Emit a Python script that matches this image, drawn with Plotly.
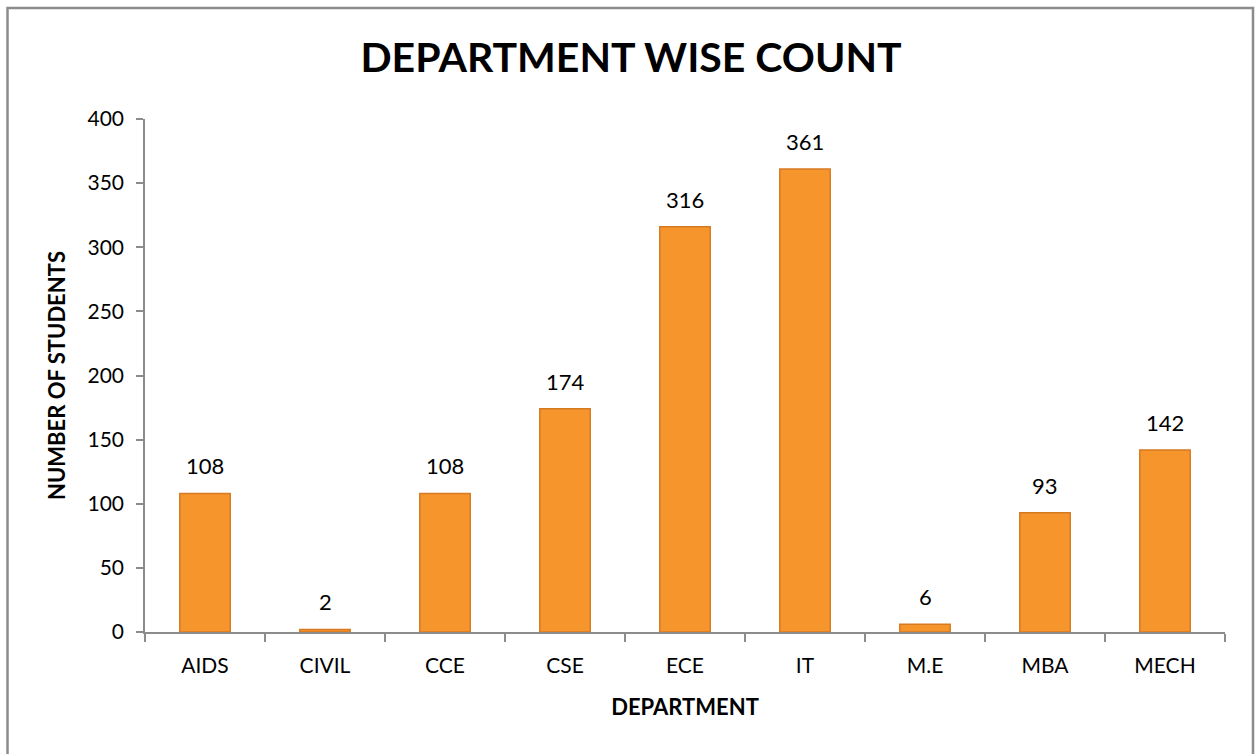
import plotly.graph_objects as go

departments = ["AIDS", "CIVIL", "CCE", "CSE", "ECE", "IT", "M.E", "MBA", "MECH"]
students = [108, 2, 108, 174, 316, 361, 6, 93, 142]

FONT = "Lato, 'Liberation Sans', sans-serif"

W, H = 1258, 754
L, R, T, B = 145, W - 1225, 119, H - 632
pw, ph = W - L - R, H - T - B


def px(x):
    return (x - L) / pw


def py(y):
    return (H - B - y) / ph


fig = go.Figure()
fig.add_trace(go.Bar(
    x=departments,
    y=students,
    width=0.42,
    marker=dict(color="#F6952B", line=dict(color="#D67A22", width=1.5)),
    hoverinfo="x+y",
))

for d, v in zip(departments, students):
    fig.add_annotation(x=d, y=v, text=str(v), showarrow=False,
                       yanchor="bottom", yshift=12,
                       font=dict(family=FONT, size=22, color="#000000"))

fig.update_layout(
    width=W, height=H,
    margin=dict(l=L, r=R, t=T, b=B, autoexpand=False),
    paper_bgcolor="white",
    plot_bgcolor="white",
    showlegend=False,
    title=dict(text="<b>DEPARTMENT WISE COUNT</b>", x=px(631), xanchor="center",
               y=1 - 58 / H, yanchor="middle", xref="paper",
               font=dict(family=FONT, size=41, color="#000000")),
    font=dict(family=FONT, color="#000000"),
    shapes=[dict(type="path", xref="paper", yref="paper",
                 path=f"M {px(7.5)} {py(800)} L {px(7.5)} {py(8)} L {px(1253)} {py(8)} L {px(1253)} {py(800)}",
                 line=dict(color="#8C8C8C", width=2.5), layer="below")],
)

fig.update_xaxes(
    showline=True, linecolor="#8C8C8C", linewidth=1.5,
    ticks="outside", tickson="boundaries", ticklen=8, tickcolor="#8C8C8C", tickwidth=1.5,
    ticklabelstandoff=14,
    tickfont=dict(family=FONT, size=21, color="#000000"),
    title=dict(text="<b>DEPARTMENT</b>", font=dict(family=FONT, size=22, color="#000000"), standoff=24),
    showgrid=False, fixedrange=True,
)
fig.update_yaxes(
    range=[0, 400], dtick=50,
    showline=True, linecolor="#8C8C8C", linewidth=1.5,
    ticks="outside", ticklen=7, tickcolor="#8C8C8C", tickwidth=1.5,
    ticklabelstandoff=8,
    tickfont=dict(family=FONT, size=21, color="#000000"),
    title=dict(text="<b>NUMBER OF STUDENTS</b>", font=dict(family=FONT, size=22, color="#000000"), standoff=16),
    showgrid=False, zeroline=False, fixedrange=True,
)

fig.write_html("out.html",
               config={"displayModeBar": False},
               post_script="document.body.style.margin='0';document.body.style.overflow='hidden';")
